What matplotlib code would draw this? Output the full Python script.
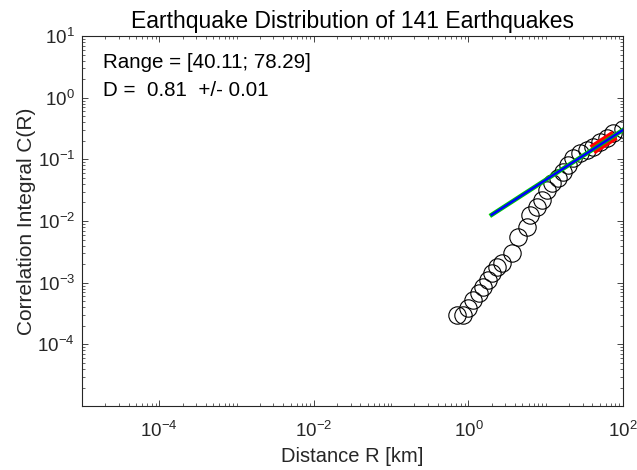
import numpy as np
import matplotlib
matplotlib.use("Agg")
import matplotlib.pyplot as plt
from matplotlib.ticker import FixedLocator, NullFormatter

plt.rcParams['font.family'] = ['Liberation Sans', 'DejaVu Sans']
plt.rcParams['mathtext.fontset'] = 'custom'
plt.rcParams['mathtext.rm'] = 'Liberation Sans'
plt.rcParams['mathtext.it'] = 'Liberation Sans'
plt.rcParams['mathtext.bf'] = 'Liberation Sans'

# Data
distance_r = [0.703, 0.857, 0.993, 1.15, 1.38, 1.55, 1.80, 2.0, 2.32, 2.69,
              3.62, 4.41, 5.66, 6.25, 7.63, 8.85, 10.3, 11.9, 14.5, 16.8,
              19.5, 22.7, 27.7, 33.8, 41.1, 50.2, 61.3, 74.7, 100.0]
corr_c = [3.0e-4, 3.0e-4, 3.86e-4, 5.26e-4, 6.76e-4, 8.65e-4, 1.11e-3, 1.43e-3,
          1.82e-3, 2.07e-3, 3.0e-3, 5.58e-3, 8.1e-3, 1.26e-2, 1.71e-2, 2.2e-2,
          3.19e-2, 4.1e-2, 4.94e-2, 6.32e-2, 8.1e-2, 0.104, 0.126, 0.142,
          0.161, 0.194, 0.22, 0.265, 0.308]
fit_range = [40.11, 78.29]
fit_d = 0.81
fit_err = 0.01
fit_amp = 0.0072
fit_x_start = 2.0
fit_x_end = 100.0
n_quakes = 141

fig = plt.figure(figsize=(6.37, 4.70), dpi=100)
ax = fig.add_axes([0.1287, 0.136, 0.8493, 0.7874])

ax.loglog(distance_r, corr_c, linestyle='none', marker='o', markersize=12.5,
          markerfacecolor='none', markeredgecolor='black', markeredgewidth=0.8)

xr = np.array(fit_range)
ax.loglog(xr, fit_amp * xr ** fit_d, color='red', lw=7.5, solid_capstyle='butt')
xf = np.array([fit_x_start, fit_x_end])
ax.loglog(xf, fit_amp * xf ** fit_d, color='#00cc00', lw=3.2)
ax.loglog(xf, fit_amp * xf ** fit_d, color='blue', lw=1.8)

ax.set_xlim(1e-5, 1e2)
ax.set_ylim(1e-5, 1e1)

axis_col = '#262626'
xmaj = [1e-4, 1e-2, 1e0, 1e2]
ax.xaxis.set_major_locator(FixedLocator(xmaj))
ax.set_xticklabels([r'$10^{-4}$', r'$10^{-2}$', r'$10^{0}$', r'$10^{2}$'])
xminor = []
for e in range(-5, 2):
    for m in range(1, 10):
        v = m * 10.0 ** e
        if v not in xmaj:
            xminor.append(v)
ax.xaxis.set_minor_locator(FixedLocator(xminor))
ax.xaxis.set_minor_formatter(NullFormatter())

ymaj = [1e-4, 1e-3, 1e-2, 1e-1, 1e0, 1e1]
ax.yaxis.set_major_locator(FixedLocator(ymaj))
ax.set_yticklabels([r'$10^{-4}$', r'$10^{-3}$', r'$10^{-2}$', r'$10^{-1}$', r'$10^{0}$', r'$10^{1}$'])
yminor = []
for e in range(-5, 1):
    for m in range(2, 10):
        yminor.append(m * 10.0 ** e)
yminor.append(1e-5)
ax.yaxis.set_minor_locator(FixedLocator(yminor))
ax.yaxis.set_minor_formatter(NullFormatter())

ax.tick_params(which='both', direction='in', top=True, right=True, color=axis_col,
               labelcolor='#262626', labelsize=13.5)
ax.tick_params(axis='x', which='major', pad=11)
ax.tick_params(axis='y', which='major', pad=5)
ax.tick_params(which='major', length=4, width=0.6)
ax.tick_params(which='minor', length=2, width=0.5)
for s in ax.spines.values():
    s.set_color(axis_col)
    s.set_linewidth(0.8)

ax.set_title('Earthquake Distribution of %d Earthquakes' % n_quakes,
             fontsize=16.5, color='black', pad=6)
ax.set_xlabel('Distance R [km]', fontsize=14.5, color='#262626', labelpad=4)
ax.set_ylabel('Correlation Integral C(R)', fontsize=15, color='#262626', labelpad=1)

ax.text(0.038, 0.928, 'Range = [%.2f; %.2f]' % (fit_range[0], fit_range[1]),
        transform=ax.transAxes, fontsize=14.8, va='center', ha='left', color='black')
ax.text(0.038, 0.852, 'D =  %.2f  +/- %.2f' % (fit_d, fit_err),
        transform=ax.transAxes, fontsize=14.8, va='center', ha='left', color='black')

fig.savefig('out.png', dpi=100)
